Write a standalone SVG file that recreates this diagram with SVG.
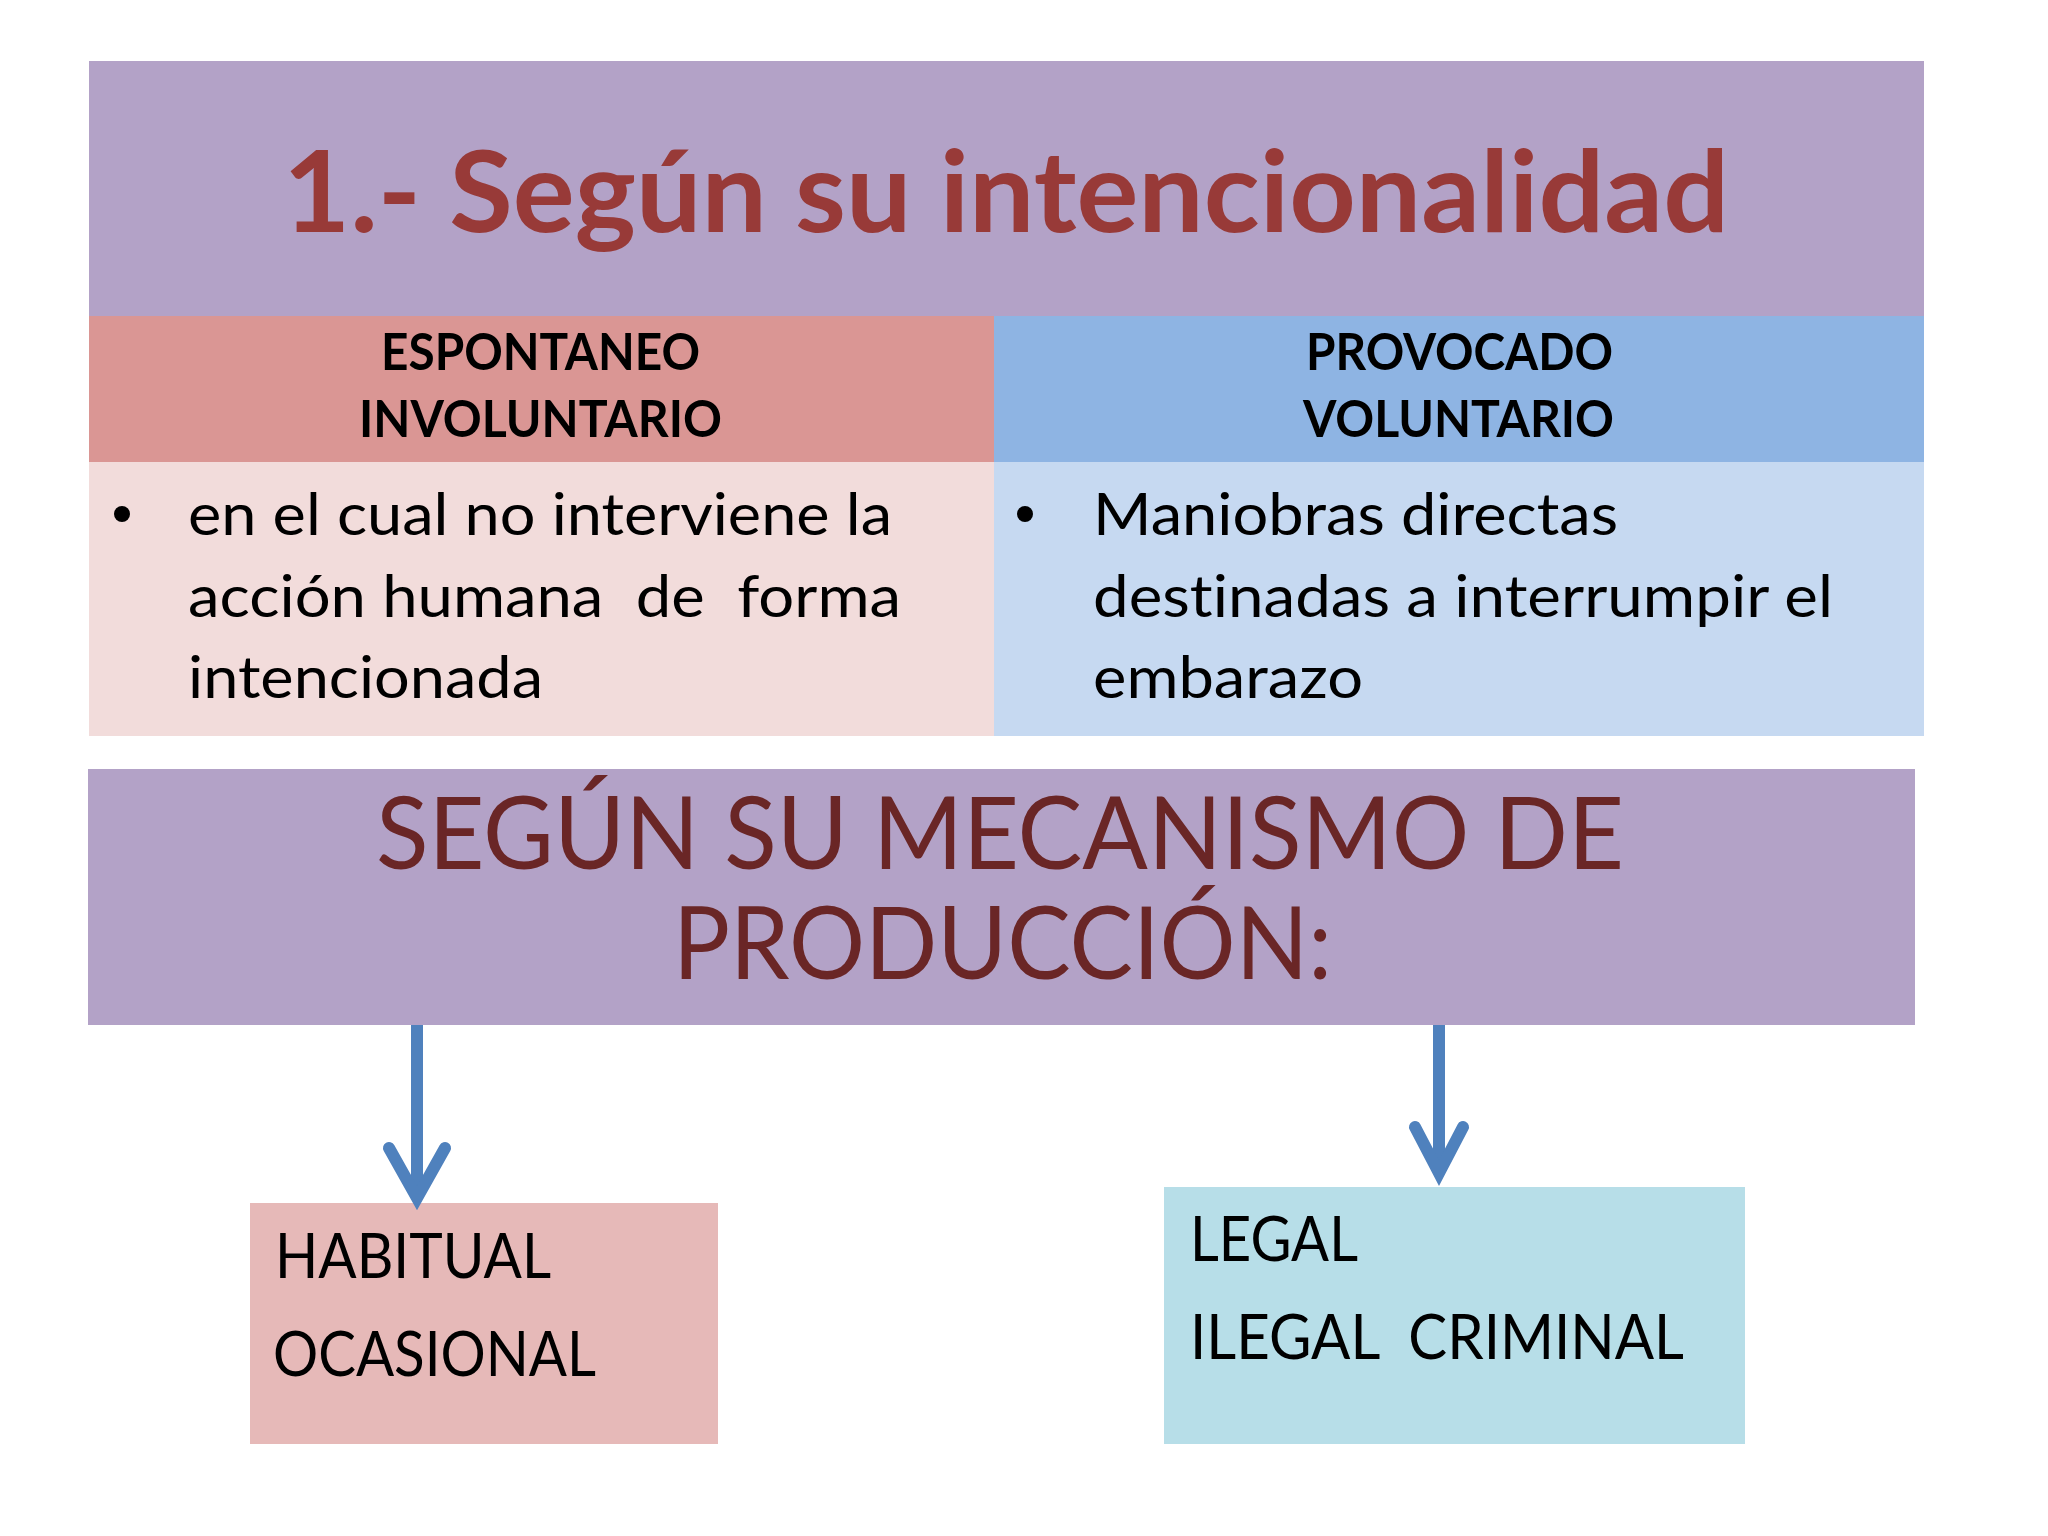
<svg xmlns="http://www.w3.org/2000/svg" width="2048" height="1536" viewBox="0 0 2048 1536">
<style>
.t{font-family:Lato,"Liberation Sans",sans-serif;font-variant-ligatures:none;}
.title{font-weight:bold;font-size:113px;fill:#983A38;}
.hdr{font-weight:bold;font-size:52px;fill:#000;}
.body{font-size:58px;fill:#000;}
.sub{font-size:101px;fill:#6A2626;}
.box{font-size:61px;fill:#000;}
.arrow{fill:none;stroke:#4F81BD;stroke-width:12;}
</style>
<rect width="2048" height="1536" fill="#FFFFFF"/>
<g id="title-box">
<rect x="89" y="61" width="1835" height="255" fill="#B3A2C7"/>
<text class="t title" x="283" y="232" textLength="1446" lengthAdjust="spacingAndGlyphs">1.- Según su intencionalidad</text>
</g>
<g id="espontaneo">
<rect x="89" y="316" width="905" height="146" fill="#DA9694"/>
<text class="t hdr" x="381" y="370" textLength="319" lengthAdjust="spacingAndGlyphs">ESPONTANEO</text>
<text class="t hdr" x="359" y="437" textLength="363" lengthAdjust="spacingAndGlyphs">INVOLUNTARIO</text>
</g>
<g id="provocado">
<rect x="994" y="316" width="930" height="146" fill="#8EB4E3"/>
<text class="t hdr" x="1306" y="370" textLength="307" lengthAdjust="spacingAndGlyphs">PROVOCADO</text>
<text class="t hdr" x="1303" y="437" textLength="311" lengthAdjust="spacingAndGlyphs">VOLUNTARIO</text>
</g>
<g id="espontaneo-body">
<rect x="89" y="462" width="905" height="274" fill="#F2DCDB"/>
<circle cx="122" cy="514" r="8" fill="#000"/>
<text class="t body" xml:space="preserve" x="188" y="535" textLength="704" lengthAdjust="spacingAndGlyphs">en el cual no interviene la</text>
<text class="t body" xml:space="preserve" x="188" y="617" textLength="713" lengthAdjust="spacingAndGlyphs">acción humana  de  forma</text>
<text class="t body" x="188" y="698" textLength="355" lengthAdjust="spacingAndGlyphs">intencionada</text>
</g>
<g id="provocado-body">
<rect x="994" y="462" width="930" height="274" fill="#C6D9F1"/>
<circle cx="1025" cy="514" r="8" fill="#000"/>
<text class="t body" x="1093" y="535" textLength="525" lengthAdjust="spacingAndGlyphs">Maniobras directas</text>
<text class="t body" x="1093" y="617" textLength="740" lengthAdjust="spacingAndGlyphs">destinadas a interrumpir el</text>
<text class="t body" x="1093" y="698" textLength="270" lengthAdjust="spacingAndGlyphs">embarazo</text>
</g>
<g id="mecanismo">
<rect x="88" y="769" width="1827" height="256" fill="#B3A2C7"/>
<text class="t sub" x="376" y="869" textLength="1248" lengthAdjust="spacingAndGlyphs">SEGÚN SU MECANISMO DE</text>
<text class="t sub" x="673" y="979" textLength="659" lengthAdjust="spacingAndGlyphs">PRODUCCIÓN:</text>
</g>
<g id="habitual">
<rect x="250" y="1203" width="468" height="241" fill="#E6B9B8"/>
<text class="t box" x="275" y="1278" textLength="276" lengthAdjust="spacingAndGlyphs">HABITUAL</text>
<text class="t box" x="273" y="1376" textLength="323" lengthAdjust="spacingAndGlyphs">OCASIONAL</text>
</g>
<g id="legal">
<rect x="1164" y="1187" width="581" height="257" fill="#B7DEE8"/>
<text class="t box" x="1190" y="1261" textLength="168" lengthAdjust="spacingAndGlyphs">LEGAL</text>
<text class="t box" xml:space="preserve" x="1190" y="1359" textLength="494" lengthAdjust="spacingAndGlyphs">ILEGAL  CRIMINAL</text>
</g>
<g id="connectors">
<line class="arrow" x1="417" y1="1025" x2="417" y2="1192"/>
<path class="arrow" d="M389,1148 L417,1198 L445,1148" stroke-linecap="round" stroke-linejoin="miter"/>
<line class="arrow" x1="1439" y1="1025" x2="1439" y2="1168"/>
<path class="arrow" d="M1415,1127 L1439,1173 L1463,1127" stroke-linecap="round" stroke-linejoin="miter"/>
</g>
</svg>
